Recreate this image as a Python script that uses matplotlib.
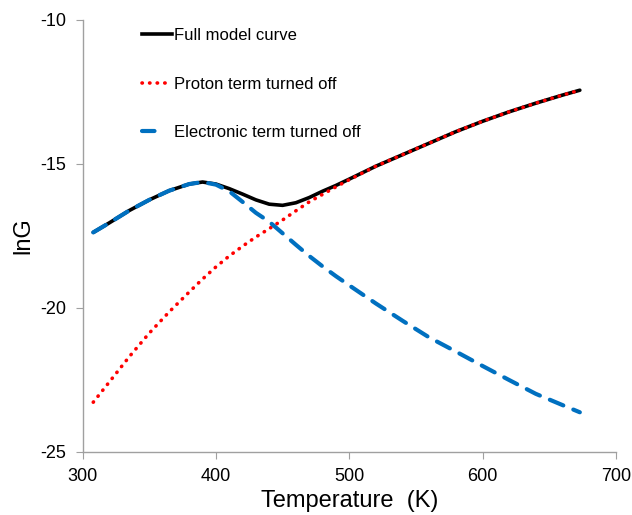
import matplotlib
matplotlib.use("Agg")
import matplotlib.pyplot as plt
from matplotlib.lines import Line2D

plt.rcParams['font.family'] = ['Liberation Sans', 'DejaVu Sans']
plt.rcParams['axes.unicode_minus'] = False

# temperature grid (K)
temp = [308, 320, 335, 350, 365, 380, 390, 400, 410, 420, 430, 440, 450,
        460, 470, 480, 490, 500, 520, 540, 560, 580, 600, 620, 640, 660, 673]

# full model
full = [-17.38, -17.05, -16.62, -16.25, -15.93, -15.70, -15.63, -15.70, -15.86,
        -16.05, -16.25, -16.40, -16.44, -16.35, -16.17, -15.95, -15.75, -15.53,
        -15.08, -14.68, -14.28, -13.88, -13.52, -13.19, -12.89, -12.61, -12.44]

# proton term off
proton_off = [-23.28, -22.58, -21.70, -20.88, -20.14, -19.45, -19.00, -18.58, -18.20,
              -17.86, -17.54, -17.25, -16.95, -16.63, -16.32, -16.06, -15.80, -15.55,
              -15.08, -14.68, -14.28, -13.88, -13.52, -13.19, -12.89, -12.61, -12.44]

# electronic term off
elec_off = [-17.38, -17.05, -16.62, -16.25, -15.93, -15.70, -15.63, -15.72, -15.95,
            -16.32, -16.70, -17.01, -17.41, -17.81, -18.20, -18.56, -18.90, -19.22,
            -19.85, -20.45, -21.03, -21.52, -22.02, -22.51, -22.99, -23.38, -23.63]

labels = ['Full model curve', 'Proton term turned off', 'Electronic term turned off']

fig = plt.figure(figsize=(6.32, 5.15), dpi=100)
ax = fig.add_axes([0.1307, 0.1229, 0.8437, 0.8383])

ax.plot(temp, full, color='black', lw=2.6, solid_capstyle='round')
ax.plot(temp, proton_off, color='#ff0000', lw=2.6, linestyle=(0, (0.1, 2.0)),
        dash_capstyle='round')
ax.plot(temp, elec_off, color='#0070c0', lw=3.0, linestyle=(0, (3.5, 2.6)),
        dash_capstyle='round')

ax.set_xlim(300, 700)
ax.set_ylim(-25, -10)
ax.set_xticks([300, 400, 500, 600, 700])
ax.set_yticks([-25, -20, -15, -10])

for s in ['top', 'right']:
    ax.spines[s].set_visible(False)
for s in ['left', 'bottom']:
    ax.spines[s].set_color('#a0a0a0')
    ax.spines[s].set_linewidth(1.0)
ax.tick_params(direction='out', length=5, color='#a0a0a0', labelsize=13, pad=7)

ax.set_xlabel('Temperature  (K)', fontsize=17, labelpad=3)
ax.set_ylabel('lnG', fontsize=17, labelpad=4)

# legend handles like the excel ones
handles = [
    Line2D([], [], color='black', lw=2.6),
    Line2D([], [], color='#ff0000', lw=2.6, linestyle=(0, (0.1, 2.0)), dash_capstyle='round'),
    Line2D([], [], color='#0070c0', lw=3.0, linestyle=(0, (3.0, 10)), dash_capstyle='round'),
]
ax.legend(handles, labels, loc='upper left', bbox_to_anchor=(0.095, 1.0), frameon=False,
          fontsize=12, handlelength=1.8, handletextpad=0.15,
          labelspacing=2.0, borderaxespad=0.1)

fig.savefig('out.png', dpi=100)
